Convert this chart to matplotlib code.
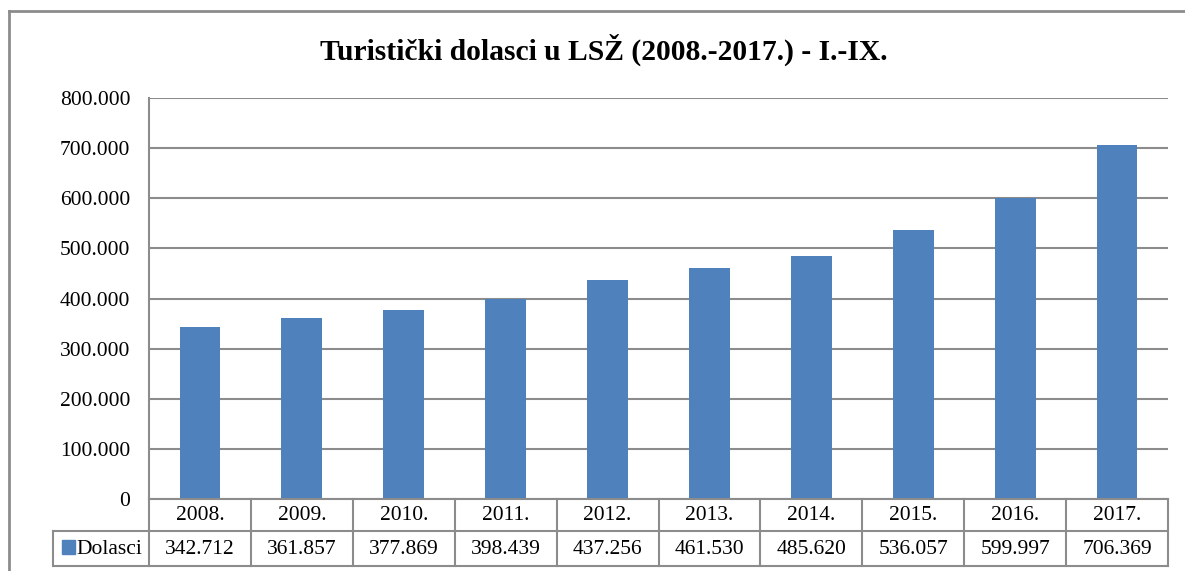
import matplotlib.pyplot as plt
from matplotlib.lines import Line2D
from matplotlib.patches import Rectangle

# podaci
godine = ['2008.', '2009.', '2010.', '2011.', '2012.', '2013.', '2014.', '2015.', '2016.', '2017.']
dolasci = [342712, 361857, 377869, 398439, 437256, 461530, 485620, 536057, 599997, 706369]
y_ticks = [0, 100000, 200000, 300000, 400000, 500000, 600000, 700000, 800000]
naslov = 'Turistički dolasci u LSŽ (2008.-2017.) - I.-IX.'
serija = 'Dolasci'

plava = '#4F81BD'
siva = '#8C8C8C'
W, H = 1185, 571
fs = 15.5

plt.rcParams['font.family'] = ['Liberation Serif', 'DejaVu Serif']

fig = plt.figure(figsize=(W / 100, H / 100), dpi=100)

def fx(px):
    return px / W

def fy(py):
    return 1 - py / H

# područje grafa
L, R, T, B = 149, 1168, 98, 499
ax = fig.add_axes([fx(L), fy(B), fx(R) - fx(L), fy(T) - fy(B)])

def fmt(v):
    return f'{v:,}'.replace(',', '.')

x = list(range(len(godine)))
ax.bar(x, dolasci, width=0.4, color=plava, zorder=3)
ax.set_xlim(-0.5, len(godine) - 0.5)
ax.set_ylim(0, 800000)
ax.set_yticks(y_ticks)
ax.set_yticklabels([fmt(v) for v in y_ticks], fontsize=fs)
ax.tick_params(axis='y', length=0, pad=13.5)
ax.set_xticks([])
ax.grid(axis='y', color=siva, linewidth=1.5, zorder=0)
for s in ['top', 'right', 'bottom']:
    ax.spines[s].set_visible(False)
ax.spines['left'].set_color(siva)
ax.spines['left'].set_linewidth(1.5)

# tablica s podacima ispod grafa
r1, r2 = 531, 566
hl = 53
lw = 1.5
# horizontalne linije
fig.add_artist(Line2D([fx(L), fx(R)], [fy(B), fy(B)], color=siva, lw=lw))
fig.add_artist(Line2D([fx(hl), fx(R)], [fy(r1), fy(r1)], color=siva, lw=lw))
fig.add_artist(Line2D([fx(hl), fx(R)], [fy(r2), fy(r2)], color=siva, lw=lw))
# vertikalne linije
cw = (R - L) / len(godine)
for i in range(len(godine) + 1):
    xx = L + i * cw
    fig.add_artist(Line2D([fx(xx), fx(xx)], [fy(B), fy(r2)], color=siva, lw=lw))
fig.add_artist(Line2D([fx(hl), fx(hl)], [fy(r1), fy(r2)], color=siva, lw=lw))

for i, (g, v) in enumerate(zip(godine, dolasci)):
    cx = L + (i + 0.5) * cw
    fig.text(fx(cx), fy((B + r1) / 2 + 1), g, ha='center', va='center', fontsize=fs)
    fig.text(fx(cx), fy((r1 + r2) / 2 + 1), fmt(v), ha='center', va='center', fontsize=fs)

# legenda u zaglavlju tablice
fig.add_artist(Rectangle((fx(62), fy(554)), fx(13), fy(540) - fy(554), color=plava))
fig.text(fx(76), fy((r1 + r2) / 2 + 1), serija, ha='left', va='center', fontsize=fs)

# vanjski okvir
fig.add_artist(Line2D([fx(9), 1.01], [fy(11), fy(11)], color=siva, lw=2))
fig.add_artist(Line2D([fx(9), fx(9)], [fy(11), -0.01], color=siva, lw=2))

fig.text(fx(604), fy(50), naslov, ha='center', va='center', fontsize=21.3, fontweight='bold')

fig.savefig('out.png', dpi=100)
